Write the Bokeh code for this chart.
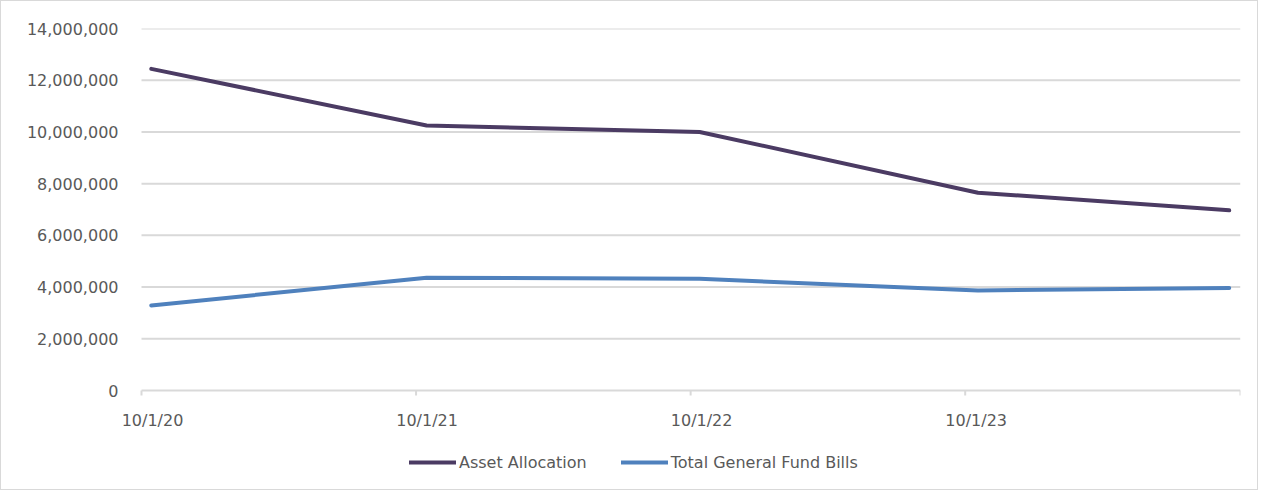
from datetime import datetime
from bokeh.plotting import figure
from bokeh.models import (ColumnDataSource, FixedTicker, NumeralTickFormatter,
                          Legend, LegendItem, Range1d)
from bokeh.core.properties import value
from bokeh.embed import file_html
from bokeh.resources import INLINE

# ---- data ----
dates = ["2020-10-14", "2021-10-15", "2022-10-13", "2023-10-18", "2024-09-16"]
asset_allocation = [12440000, 10250000, 10000000, 7650000, 6970000]
general_fund_bills = [3290000, 4360000, 4320000, 3870000, 3960000]
x_ticks = ["2020-10-01", "2021-10-01", "2022-10-01", "2023-10-01"]
x_tick_labels = ["10/1/20", "10/1/21", "10/1/22", "10/1/23"]
x_end = "2024-10-01"
y_ticks = [0, 2000000, 4000000, 6000000, 8000000, 10000000, 12000000, 14000000]
series_names = ["Asset Allocation", "Total General Fund Bills"]

def dt(s):
    return datetime.strptime(s, "%Y-%m-%d")

def ms(s):
    return dt(s).timestamp() * 1000

FONT = "DejaVu Sans"
GRAY = "#595959"
GRID = "#d9d9d9"

# layout in pixels (figure coordinates)
W, H = 1258, 490
AXIS_LEFT, AXIS_RIGHT = 140, 1239
FRAME_LEFT = 106
TOP, BOTTOM = 27, 8
ZERO_Y = 389
RIGHT = W - AXIS_RIGHT
frame_h = H - TOP - BOTTOM
zero_px_from_top = ZERO_Y - TOP
y_max = y_ticks[-1]
per_px = y_max / zero_px_from_top
y_min = -(frame_h - zero_px_from_top) * per_px
ms_per_px = (ms(x_end) - ms(x_ticks[0])) / (AXIS_RIGHT - AXIS_LEFT)
x_start = ms(x_ticks[0]) - (AXIS_LEFT - FRAME_LEFT) * ms_per_px

src = ColumnDataSource(dict(x=[dt(d) for d in dates], a=asset_allocation, b=general_fund_bills))

p = figure(width=W, height=H, x_axis_type="datetime", x_axis_location=None,
           output_backend="svg", toolbar_location=None,
           x_range=Range1d(x_start, ms(x_end)),
           y_range=Range1d(y_min, y_max),
           min_border_left=FRAME_LEFT, min_border_right=RIGHT, min_border_top=TOP,
           min_border_bottom=BOTTOM)
p.outline_line_color = None
p.styles = {"border": "1px solid #d9d9d9"}

# y axis (labels only)
p.yaxis.ticker = FixedTicker(ticks=y_ticks)
p.yaxis.formatter = NumeralTickFormatter(format="0,0")
p.yaxis.axis_line_color = None
p.yaxis.major_tick_line_color = None
p.yaxis.minor_tick_line_color = None
p.yaxis.major_label_standoff = -17
p.yaxis.major_label_text_font = FONT
p.yaxis.major_label_text_font_size = "16px"
p.yaxis.major_label_text_color = GRAY
p.xgrid.grid_line_color = None
p.ygrid.grid_line_color = None

# horizontal gridlines from the first to the last date of the axis
gx0 = [dt(x_ticks[0])] * (len(y_ticks) - 1)
gx1 = [dt(x_end)] * (len(y_ticks) - 1)
p.segment(x0=gx0, y0=y_ticks[1:], x1=gx1, y1=y_ticks[1:], line_color=GRID, line_width=2)

# date axis drawn at value 0
p.segment(x0=[dt(x_ticks[0])], y0=[0], x1=[dt(x_end)], y1=[0], line_color=GRID, line_width=2)
tick_len = 5 * per_px
tick_x = [dt(t) for t in x_ticks] + [dt(x_end)]
p.segment(x0=tick_x, y0=[0] * len(tick_x), x1=tick_x, y1=[-tick_len] * len(tick_x),
          line_color=GRID, line_width=2)
p.text(x=[dt(t) for t in x_ticks], y=[0] * len(x_ticks), text=x_tick_labels,
       x_offset=11, y_offset=20, text_align="center", text_baseline="top",
       text_font=value(FONT), text_font_size="16px", text_color=GRAY)

r1 = p.line("x", "a", source=src, line_color="#4B3B63", line_width=4, line_cap="round", line_join="round")
r2 = p.line("x", "b", source=src, line_color="#4F81BD", line_width=4, line_cap="round", line_join="round")

legend = Legend(items=[LegendItem(label=series_names[0], renderers=[r1]),
                       LegendItem(label=series_names[1], renderers=[r2])],
                orientation="horizontal", location=(408 - FRAME_LEFT, 11),
                padding=0, margin=0, spacing=34, glyph_width=47, glyph_height=20,
                label_standoff=3, border_line_color=None, background_fill_alpha=0,
                label_text_font=FONT, label_text_font_size="16px", label_text_color=GRAY)
p.add_layout(legend, "center")

open("out.html", "w").write(file_html(p, INLINE))
